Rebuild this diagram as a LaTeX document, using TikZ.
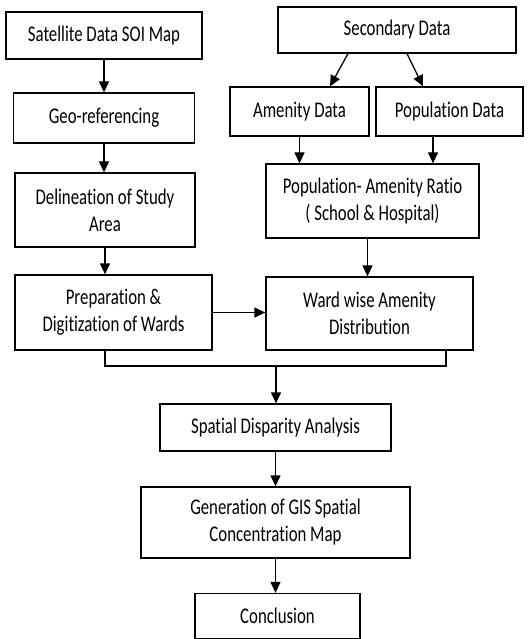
\documentclass[tikz,border=0pt]{standalone}
\usepackage{fontspec}
\setmainfont{Carlito}[FakeStretch=0.75, Ligatures=NoCommon]
\usetikzlibrary{arrows.meta}

\begin{document}
\begin{tikzpicture}[x=1pt, y=-1pt,
  every node/.style={draw, line width=1.3pt, inner sep=0pt, align=center,
    font=\fontsize{22.4}{27}\selectfont},
  arr/.style={line width=1.3pt, -{Triangle[length=11pt, width=10pt]}},
  link/.style={line width=1.3pt}]
  \useasboundingbox (0,0) rectangle (528,639);

  \node[minimum width=196pt, minimum height=47pt] (sat) at (104,35.5) {Satellite Data SOI Map};
  \node[minimum width=181pt, minimum height=50pt] (geo) at (104,118) {Geo-referencing};
  \node[minimum width=180pt, minimum height=74pt] (del) at (105,210) {Delineation of Study\\Area};
  \node[minimum width=197pt, minimum height=75pt] (prep) at (113.5,312.5) {Preparation \&\\Digitization of Wards};

  \node[minimum width=238pt, minimum height=46pt] (sec) at (397,30) {Secondary Data};
  \node[minimum width=139pt, minimum height=49pt] (amen) at (299.5,111.5) {Amenity Data};
  \node[minimum width=147pt, minimum height=49pt] (pop) at (449.5,111.5) {Population Data};
  \node[minimum width=213pt, minimum height=74pt] (ratio) at (372.5,201) {Population- Amenity Ratio\\( School \& Hospital)};
  \node[minimum width=207pt, minimum height=73pt] (ward) at (369.5,313.5) {Ward wise Amenity\\Distribution};

  \node[minimum width=231pt, minimum height=47pt] (spat) at (275.5,427.5) {Spatial Disparity Analysis};
  \node[minimum width=269pt, minimum height=71pt] (gen) at (275.5,522.5) {Generation of GIS Spatial\\Concentration Map};
  \node[minimum width=165pt, minimum height=45pt] (concl) at (277.5,616) {Conclusion};

  \coordinate (merge) at (276,366);

  \draw[arr] (sat.south) -- (sat.south |- geo.north);
  \draw[arr] (geo.south) -- (geo.south |- del.north);
  \draw[arr] (del.south) -- (del.south |- prep.north);
  \draw[arr] ([xshift=-49pt]sec.south) -- ([xshift=30.5pt]amen.north);
  \draw[arr] ([xshift=10pt]sec.south) -- ([xshift=-26.5pt]pop.north);
  \draw[arr] (amen.south) -- (amen.south |- ratio.north);
  \draw[arr] ([xshift=-16.5pt]pop.south) -- ([xshift=-16.5pt]pop.south |- ratio.north);
  \draw[arr] ([xshift=-5pt]ratio.south) -- ([xshift=-5pt]ratio.south |- ward.north);
  \draw[arr] (prep.east) -- (prep.east -| ward.west);
  \draw[link] ([xshift=-8.5pt]prep.south) |- (merge) -| ([xshift=76.5pt]ward.south);
  \draw[arr] (merge) -- (merge |- spat.north);
  \draw[arr] (spat.south) -- (gen.north);
  \draw[arr] (gen.south) -- (gen.south |- concl.north);
\end{tikzpicture}
\end{document}
